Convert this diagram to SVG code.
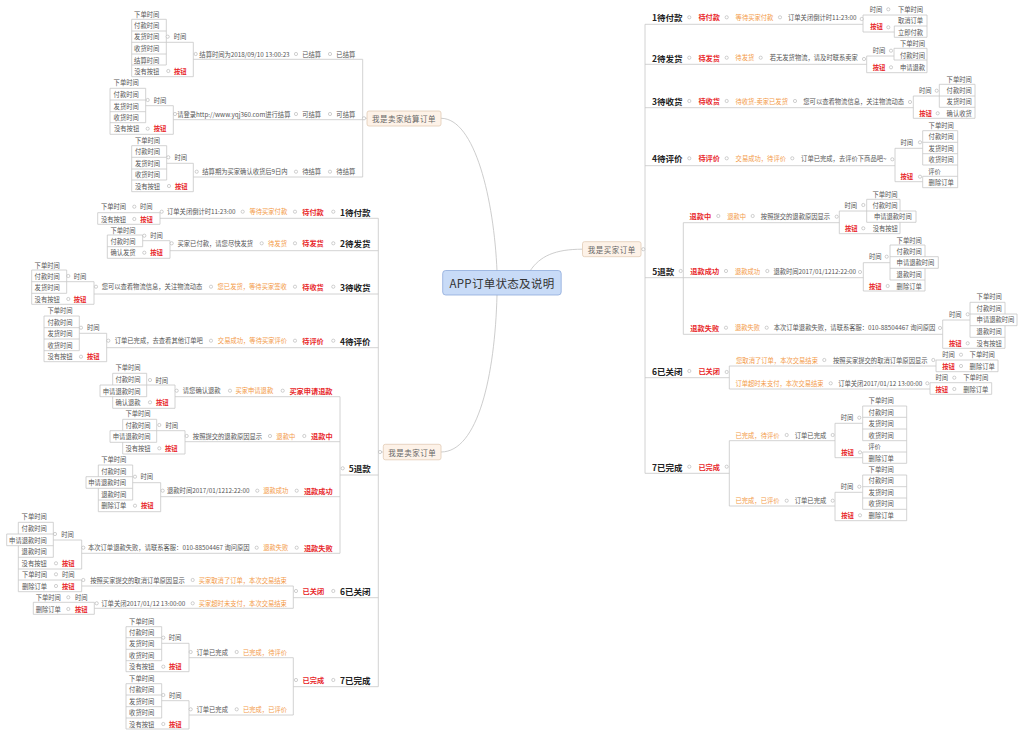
<svg xmlns="http://www.w3.org/2000/svg" width="1024" height="735" viewBox="0 0 1024 735">
<style>
text{font-family:"Noto Sans CJK SC","Noto Sans",sans-serif;text-anchor:middle;dominant-baseline:central}
.t{font-size:6.3px;fill:#555}
.o{font-size:6.3px;fill:#f39a48}
.b{font-size:6.3px;fill:#e8282b;font-weight:bold}
.r{font-size:7.2px;fill:#e8282b;font-weight:bold}
.h{font-size:8.5px;fill:#222;font-weight:bold}
.bx{fill:#fdf2e8;stroke:#e2cbb5;stroke-width:0.8}
.bt{font-size:7.5px;fill:#666;letter-spacing:0.5px}
.ln{fill:none;stroke:#c6c6c6;stroke-width:0.8}
.cv{fill:none;stroke:#c0c0c0;stroke-width:0.8}
.k{fill:#fff;stroke:#b0b0b0;stroke-width:0.6}
</style>
<rect width="1024" height="735" fill="#fff"/>
<g id="connectors">
<path class="cv" d="M441,118.3 C475,118.3 494,200 497,271"/>
<path class="cv" d="M441,452 C478,452 495,375 497,295"/>
<path class="cv" d="M530,271 C540,256 555,249.2 582.5,249.2"/>
<path class="ln" d="M641,249.2 H645 M645,24.3 V473.3"/>
<path class="ln" d="M645,24.3 H863 M863,15 V32 M863,15 H927 M863,32 H894.3 M894.3,26 V37.3 M894.3,26 H927 M894.3,37.3 H927 M927,15 V37.3"/>
<path class="ln" d="M645,64.3 H866.7 M866.7,56 V72.7 M866.7,56 H894 M894,48.3 V60 M894,48.3 H927 M894,60 H927 M866.7,72.7 H927 M927,48.3 V72.7"/>
<path class="ln" d="M645,107.7 H913.3 M913.3,96 V118.3 M913.3,96 H939.3 M939.3,84.3 V107.3 M939.3,84.3 H975 M939.3,96 H975 M939.3,107.3 H975 M913.3,118.3 H975 M975,84.3 V118.3"/>
<path class="ln" d="M645,165.7 H895 M895,148.3 V181.7 M895,148.3 H922.7 M922.7,130.7 V165 M922.7,130.7 H957.7 M922.7,142.3 H957.7 M922.7,153.7 H957.7 M922.7,165 H957.7 M895,181.7 H922.7 M922.7,176.3 V187.7 M922.7,176.3 H957.7 M922.7,187.7 H957.7 M957.7,130.7 V187.7"/>
<path class="ln" d="M645,277.7 H683.3 M683.3,222.7 V334.3"/>
<path class="ln" d="M683.3,222.7 H839.3 M839.3,211 V233.7 M839.3,211 H866.7 M866.7,199.3 V222.3 M866.7,199.3 H900 M866.7,211 H916 M866.7,222.3 H916 M839.3,233.7 H900 M900,199.3 V211 M916,211 V222.3 M900,222.3 V233.7"/>
<path class="ln" d="M683.3,277.7 H863.3 M863.3,262.7 V291 M863.3,262.7 H890 M890,245 V280 M890,245 H925 M890,256.7 H938.3 M890,268.3 H938.3 M890,280 H925 M863.3,291 H925 M925,245 V256.7 M938.3,256.7 V268.3 M925,268.3 V291"/>
<path class="ln" d="M683.3,334.3 H942.7 M942.7,320 V348.3 M942.7,320 H970 M970,302.3 V337.3 M970,302.3 H1005 M970,314 H1017 M970,325.7 H1017 M970,337.3 H1005 M942.7,348.3 H1005 M1005,302.3 V314 M1017,314 V325.7 M1005,325.7 V348.3"/>
<path class="ln" d="M645,377.7 H729.3 M729.3,366 V389 M729.3,366 H936 M936,360 V371.7 M936,360 H998 M936,371.7 H998 M998,360 V371.7 M729.3,389 H930 M930,382.7 V394.3 M930,382.7 H991.7 M930,394.3 H991.7 M991.7,382.7 V394.3"/>
<path class="ln" d="M645,473.3 H729.3 M729.3,440.7 V506 M729.3,440.7 H835 M835,423.3 V457.7 M835,423.3 H862.7 M862.7,406 V440.7 M862.7,406 H906.7 M862.7,417.3 H906.7 M862.7,429 H906.7 M862.7,440.7 H906.7 M835,457.7 H862.7 M862.7,452 V463.3 M862.7,452 H906.7 M862.7,463.3 H906.7 M906.7,406 V463.3 M729.3,506 H835 M835,492.3 V520.7 M835,492.3 H862.7 M862.7,475 V509.3 M862.7,475 H906.7 M862.7,486.7 H906.7 M862.7,498 H906.7 M862.7,509.3 H906.7 M835,520.7 H906.7 M906.7,475 V520.7"/>
<path class="ln" d="M362.7,59.3 V177 M362.7,118.3 H367"/>
<path class="ln" d="M362.7,59.3 H193.3 M193.3,42.3 V76.7 M193.3,42.3 H166.3 M166.3,19.3 V65 M166.3,19.3 H131.7 M166.3,31 H131.7 M166.3,42.3 H131.7 M166.3,54 H131.7 M166.3,65 H131.7 M193.3,76.7 H131.7 M131.7,19.3 V76.7"/>
<path class="ln" d="M362.7,119.7 H173.3 M173.3,105.7 V134.3 M173.3,105.7 H145.7 M145.7,88.3 V122.7 M145.7,88.3 H110 M145.7,100 H110 M145.7,111.7 H110 M145.7,122.7 H110 M173.3,134.3 H110 M110,88.3 V134.3"/>
<path class="ln" d="M362.7,177 H193.3 M193.3,163.3 V191.7 M193.3,163.3 H166.7 M166.7,145.7 V180 M166.7,145.7 H131.7 M166.7,157.3 H131.7 M166.7,169 H131.7 M166.7,180 H131.7 M193.3,191.7 H131.7 M131.7,145.7 V191.7"/>
<path class="ln" d="M378.3,218.3 V686.7 M378.3,452 H383.3"/>
<path class="ln" d="M378.3,218.3 H160 M160,212.7 V224.3 M160,212.7 H97.7 M160,224.3 H97.7 M97.7,212.7 V224.3"/>
<path class="ln" d="M378.3,250.7 H170 M170,240.7 V258.3 M170,240.7 H142.7 M142.7,235 V246.7 M142.7,235 H107.3 M142.7,246.7 H107.3 M170,258.3 H107.3 M107.3,235 V258.3"/>
<path class="ln" d="M378.3,294 H94 M94,281.7 V304.3 M94,281.7 H66.7 M66.7,270 V293.3 M66.7,270 H31.7 M66.7,281.7 H31.7 M66.7,293.3 H31.7 M94,304.3 H31.7 M31.7,270 V304.3"/>
<path class="ln" d="M378.3,347.7 H106.7 M106.7,333.3 V361.7 M106.7,333.3 H79.3 M79.3,316 V350.7 M79.3,316 H44 M79.3,327.7 H44 M79.3,339 H44 M79.3,350.7 H44 M106.7,361.7 H44 M44,316 V361.7"/>
<path class="ln" d="M378.3,475 H340 M340,396.7 V553.3"/>
<path class="ln" d="M340,396.7 H175 M175,385 V408.3 M175,385 H146.7 M146.7,373.3 V396.7 M146.7,373.3 H112.7 M146.7,385 H100 M146.7,396.7 H100 M175,408.3 H112.7 M112.7,373.3 V385 M100,385 V396.7 M112.7,396.7 V408.3"/>
<path class="ln" d="M340,441.7 H185 M185,430.7 V454 M185,430.7 H156.7 M156.7,419.3 V442.3 M156.7,419.3 H122.7 M156.7,430.7 H110 M156.7,442.3 H110 M185,454 H122.7 M122.7,419.3 V430.7 M110,430.7 V442.3 M122.7,442.3 V454"/>
<path class="ln" d="M340,496.7 H160.7 M160.7,482.7 V511.7 M160.7,482.7 H132.7 M132.7,465 V500 M132.7,465 H98.3 M132.7,476.7 H86 M132.7,488.3 H86 M132.7,500 H98.3 M160.7,511.7 H98.3 M98.3,465 V476.7 M86,476.7 V488.3 M98.3,488.3 V511.7"/>
<path class="ln" d="M340,553.3 H81.7 M81.7,540 V569 M81.7,540 H53.3 M53.3,522.3 V557.3 M53.3,522.3 H18.3 M53.3,534 H6.7 M53.3,545.7 H6.7 M53.3,557.3 H18.3 M81.7,569 H18.3 M18.3,522.3 V534 M6.7,534 V545.7 M18.3,545.7 V591.7"/>
<path class="ln" d="M378.3,597.7 H293.3 M293.3,586 V608.3 M293.3,586 H81.7 M81.7,580 V591.7 M81.7,580 H18.3 M81.7,591.7 H18.3 M293.3,608.3 H94.3 M94.3,602.3 V614.3 M94.3,602.3 H33.3 M94.3,614.3 H33.3 M33.3,602.3 V614.3"/>
<path class="ln" d="M378.3,686.7 H293.3 M293.3,657.7 V715 M293.3,657.7 H189 M189,643.3 V671.7 M189,643.3 H161.7 M161.7,626.7 V660.7 M161.7,626.7 H126 M161.7,637.7 H126 M161.7,649.3 H126 M161.7,660.7 H126 M189,671.7 H126 M126,626.7 V671.7 M293.3,715 H189 M189,700.7 V729 M189,700.7 H161.7 M161.7,683.7 V718 M161.7,683.7 H126 M161.7,695 H126 M161.7,706.7 H126 M161.7,718 H126 M189,729 H126 M126,683.7 V729"/>
</g>
<g id="markers">
<circle class="k" r="1.6" cx="643.3" cy="249.2"/><circle class="k" r="1.6" cx="364" cy="118.3"/><circle class="k" r="1.6" cx="380" cy="452"/>
<circle class="k" r="1.6" cx="689.3" cy="17.3"/><circle class="k" r="1.6" cx="726.7" cy="17.3"/><circle class="k" r="1.6" cx="780" cy="17.3"/><circle class="k" r="1.6" cx="861.7" cy="19"/><circle class="k" r="1.6" cx="888.3" cy="9.3"/><circle class="k" r="1.6" cx="888.3" cy="27.3"/>
<circle class="k" r="1.6" cx="689.3" cy="57.7"/><circle class="k" r="1.6" cx="726.7" cy="57.7"/><circle class="k" r="1.6" cx="760.7" cy="57.7"/><circle class="k" r="1.6" cx="864" cy="59"/><circle class="k" r="1.6" cx="891" cy="50.7"/><circle class="k" r="1.6" cx="891" cy="67.3"/>
<circle class="k" r="1.6" cx="689.3" cy="101"/><circle class="k" r="1.6" cx="726.7" cy="101"/><circle class="k" r="1.6" cx="795" cy="101"/><circle class="k" r="1.6" cx="910" cy="102"/><circle class="k" r="1.6" cx="936.7" cy="90.7"/><circle class="k" r="1.6" cx="937.7" cy="113.3"/>
<circle class="k" r="1.6" cx="689.3" cy="158.3"/><circle class="k" r="1.6" cx="726.7" cy="158.3"/><circle class="k" r="1.6" cx="792.3" cy="158.3"/><circle class="k" r="1.6" cx="892.3" cy="159.3"/><circle class="k" r="1.6" cx="920" cy="142.3"/><circle class="k" r="1.6" cx="920" cy="176.7"/>
<circle class="k" r="1.6" cx="680.7" cy="271"/>
<circle class="k" r="1.6" cx="718.3" cy="216"/><circle class="k" r="1.6" cx="752.7" cy="216"/><circle class="k" r="1.6" cx="836.7" cy="216.7"/><circle class="k" r="1.6" cx="863.3" cy="205"/><circle class="k" r="1.6" cx="863.3" cy="228.3"/>
<circle class="k" r="1.6" cx="726" cy="271"/><circle class="k" r="1.6" cx="767.3" cy="271"/><circle class="k" r="1.6" cx="860" cy="272"/><circle class="k" r="1.6" cx="886.7" cy="256.7"/><circle class="k" r="1.6" cx="887.7" cy="286"/>
<circle class="k" r="1.6" cx="726" cy="327.7"/><circle class="k" r="1.6" cx="766.7" cy="327.7"/><circle class="k" r="1.6" cx="940" cy="328"/><circle class="k" r="1.6" cx="967.7" cy="314.3"/><circle class="k" r="1.6" cx="967.7" cy="343.3"/>
<circle class="k" r="1.6" cx="689.3" cy="371"/><circle class="k" r="1.6" cx="726.7" cy="372"/><circle class="k" r="1.6" cx="824.3" cy="360"/><circle class="k" r="1.6" cx="933.3" cy="360"/><circle class="k" r="1.6" cx="961" cy="354.7"/><circle class="k" r="1.6" cx="961" cy="366"/><circle class="k" r="1.6" cx="830.7" cy="383.3"/><circle class="k" r="1.6" cx="927.3" cy="383.3"/><circle class="k" r="1.6" cx="954.3" cy="377.7"/><circle class="k" r="1.6" cx="954.3" cy="389"/>
<circle class="k" r="1.6" cx="689.3" cy="466.7"/><circle class="k" r="1.6" cx="726.7" cy="466.7"/><circle class="k" r="1.6" cx="786.7" cy="435"/><circle class="k" r="1.6" cx="832.7" cy="435"/><circle class="k" r="1.6" cx="859.3" cy="417.7"/><circle class="k" r="1.6" cx="860" cy="452.3"/><circle class="k" r="1.6" cx="786.7" cy="500.7"/><circle class="k" r="1.6" cx="832.7" cy="500.7"/><circle class="k" r="1.6" cx="859.3" cy="486.7"/><circle class="k" r="1.6" cx="860" cy="515.3"/>
<circle class="k" r="1.6" cx="330" cy="54"/><circle class="k" r="1.6" cx="296" cy="54"/><circle class="k" r="1.6" cx="195.7" cy="54"/><circle class="k" r="1.6" cx="167.7" cy="36.7"/><circle class="k" r="1.6" cx="168.3" cy="71"/>
<circle class="k" r="1.6" cx="330" cy="114"/><circle class="k" r="1.6" cx="296" cy="114"/><circle class="k" r="1.6" cx="175" cy="114"/><circle class="k" r="1.6" cx="147.7" cy="100"/><circle class="k" r="1.6" cx="147.7" cy="128.7"/>
<circle class="k" r="1.6" cx="330" cy="171.7"/><circle class="k" r="1.6" cx="296" cy="171.7"/><circle class="k" r="1.6" cx="196.7" cy="171.7"/><circle class="k" r="1.6" cx="168.3" cy="157.3"/><circle class="k" r="1.6" cx="169" cy="186"/>
<circle class="k" r="1.6" cx="333.3" cy="211.7"/><circle class="k" r="1.6" cx="295" cy="211.7"/><circle class="k" r="1.6" cx="242.7" cy="211.7"/><circle class="k" r="1.6" cx="161.7" cy="211.7"/><circle class="k" r="1.6" cx="134.3" cy="206.7"/><circle class="k" r="1.6" cx="134.3" cy="219"/>
<circle class="k" r="1.6" cx="333.3" cy="243.3"/><circle class="k" r="1.6" cx="295" cy="243.3"/><circle class="k" r="1.6" cx="261.7" cy="243.3"/><circle class="k" r="1.6" cx="171.7" cy="243.3"/><circle class="k" r="1.6" cx="144.3" cy="235.7"/><circle class="k" r="1.6" cx="144.3" cy="252.7"/>
<circle class="k" r="1.6" cx="333.3" cy="286.7"/><circle class="k" r="1.6" cx="295" cy="286.7"/><circle class="k" r="1.6" cx="211" cy="286.7"/><circle class="k" r="1.6" cx="96" cy="286.7"/><circle class="k" r="1.6" cx="68.3" cy="276"/><circle class="k" r="1.6" cx="68.3" cy="299"/>
<circle class="k" r="1.6" cx="333.3" cy="340.7"/><circle class="k" r="1.6" cx="295" cy="340.7"/><circle class="k" r="1.6" cx="211" cy="340.7"/><circle class="k" r="1.6" cx="108.3" cy="340.7"/><circle class="k" r="1.6" cx="81" cy="327.7"/><circle class="k" r="1.6" cx="81" cy="356.7"/>
<circle class="k" r="1.6" cx="342.7" cy="468.3"/>
<circle class="k" r="1.6" cx="282.7" cy="390.7"/><circle class="k" r="1.6" cx="230" cy="390.7"/><circle class="k" r="1.6" cx="176.7" cy="390.7"/><circle class="k" r="1.6" cx="150" cy="380"/><circle class="k" r="1.6" cx="150" cy="402.3"/>
<circle class="k" r="1.6" cx="304.3" cy="436"/><circle class="k" r="1.6" cx="270" cy="436"/><circle class="k" r="1.6" cx="186.7" cy="436"/><circle class="k" r="1.6" cx="159.3" cy="425"/><circle class="k" r="1.6" cx="159.3" cy="448.3"/>
<circle class="k" r="1.6" cx="296.7" cy="490.7"/><circle class="k" r="1.6" cx="257.3" cy="490.7"/><circle class="k" r="1.6" cx="162.7" cy="490.7"/><circle class="k" r="1.6" cx="135" cy="476.7"/><circle class="k" r="1.6" cx="135" cy="505.7"/>
<circle class="k" r="1.6" cx="296.7" cy="547.7"/><circle class="k" r="1.6" cx="256.7" cy="547.7"/><circle class="k" r="1.6" cx="83.3" cy="547.7"/><circle class="k" r="1.6" cx="55" cy="534"/><circle class="k" r="1.6" cx="56" cy="563.3"/>
<circle class="k" r="1.6" cx="333.3" cy="591"/><circle class="k" r="1.6" cx="296" cy="591"/><circle class="k" r="1.6" cx="192.7" cy="580"/><circle class="k" r="1.6" cx="83.3" cy="580"/><circle class="k" r="1.6" cx="56" cy="574.3"/><circle class="k" r="1.6" cx="56" cy="586"/><circle class="k" r="1.6" cx="192.7" cy="603.3"/><circle class="k" r="1.6" cx="96.7" cy="603.3"/><circle class="k" r="1.6" cx="68.3" cy="597.3"/><circle class="k" r="1.6" cx="68.3" cy="609"/>
<circle class="k" r="1.6" cx="333.3" cy="680"/><circle class="k" r="1.6" cx="296" cy="680"/><circle class="k" r="1.6" cx="236.7" cy="652"/><circle class="k" r="1.6" cx="190.7" cy="652"/><circle class="k" r="1.6" cx="163.3" cy="637.7"/><circle class="k" r="1.6" cx="163.3" cy="666.7"/><circle class="k" r="1.6" cx="236.7" cy="709.3"/><circle class="k" r="1.6" cx="190.7" cy="709.3"/><circle class="k" r="1.6" cx="163.3" cy="695"/><circle class="k" r="1.6" cx="163.3" cy="724"/>
</g>
<g id="root"><rect x="442.7" y="270.5" width="118.5" height="24.5" rx="3" fill="#c8dbf7" stroke="#8eaadb" stroke-width="0.8"/><text x="502" y="283" style="font-size:11.5px;fill:#333;letter-spacing:0.3px">APP订单状态及说明</text></g>
<g id="seller-settle"><rect class="bx" x="367" y="111" width="74" height="15" rx="2"/><text class="bt" x="404" y="118.5">我是卖家结算订单</text></g>
<g id="buyer"><rect class="bx" x="582.5" y="241.7" width="58.5" height="15" rx="2"/><text class="bt" x="611.7" y="249.2">我是买家订单</text></g>
<g id="seller"><rect class="bx" x="383.3" y="444.3" width="57.7" height="15.5" rx="2"/><text class="bt" x="412.2" y="452">我是卖家订单</text></g>

<g id="b1"><text class="h" x="667.3" y="17.3">1待付款</text></g>
<g id="b1s"><text class="r" x="709.2" y="17.3">待付款</text></g>
<g id="b1d"><text class="o" x="754.5" y="17.3">等待买家付款</text></g>
<g id="b1n"><text class="t" x="822.3" y="17.3">订单关闭倒计时11:23:00</text></g>
<g id="b1t"><text class="t" x="876" y="9.3">时间</text></g>
<g id="b1t1"><text class="t" x="910.5" y="9.3">下单时间</text></g>
<g id="b1b"><text class="b" x="876.5" y="26.7">按钮</text></g>
<g id="b1b1"><text class="t" x="910.5" y="20.7">取消订单</text></g>
<g id="b1b2"><text class="t" x="910.5" y="32">立即付款</text></g>

<g id="b2"><text class="h" x="667.3" y="57.7">2待发货</text></g>
<g id="b2s"><text class="r" x="709.2" y="57.7">待发货</text></g>
<g id="b2d"><text class="o" x="744.8" y="57.7">待发货</text></g>
<g id="b2n"><text class="t" x="813.8" y="57.7">若无发货物流，请及时联系卖家</text></g>
<g id="b2t"><text class="t" x="879" y="50.7">时间</text></g>
<g id="b2t1"><text class="t" x="912.5" y="43.3">下单时间</text></g>
<g id="b2t2"><text class="t" x="912.5" y="55">付款时间</text></g>
<g id="b2b"><text class="b" x="879" y="67.3">按钮</text></g>
<g id="b2b1"><text class="t" x="912.5" y="67.3">申请退款</text></g>

<g id="b3"><text class="h" x="667.3" y="101">3待收货</text></g>
<g id="b3s"><text class="r" x="709.2" y="101">待收货</text></g>
<g id="b3d"><text class="o" x="761.7" y="101">待收货-卖家已发货</text></g>
<g id="b3n"><text class="t" x="853.7" y="101">您可以查看物流信息，关注物流动态</text></g>
<g id="b3t"><text class="t" x="925.2" y="90.7">时间</text></g>
<g id="b3t1"><text class="t" x="959.2" y="79.3">下单时间</text></g>
<g id="b3t2"><text class="t" x="959.2" y="90.7">付款时间</text></g>
<g id="b3t3"><text class="t" x="959.2" y="101.7">发货时间</text></g>
<g id="b3b"><text class="b" x="925.5" y="113.3">按钮</text></g>
<g id="b3b1"><text class="t" x="959.2" y="113.3">确认收货</text></g>

<g id="b4"><text class="h" x="667.3" y="158.3">4待评价</text></g>
<g id="b4s"><text class="r" x="709.2" y="158.3">待评价</text></g>
<g id="b4d"><text class="o" x="760.8" y="158.3">交易成功，待评价</text></g>
<g id="b4n"><text class="t" x="843.8" y="158.3">订单已完成，去评价下商品吧~</text></g>
<g id="b4t"><text class="t" x="906.8" y="142.3">时间</text></g>
<g id="b4t1"><text class="t" x="941.2" y="125">下单时间</text></g>
<g id="b4t2"><text class="t" x="941.2" y="136.7">付款时间</text></g>
<g id="b4t3"><text class="t" x="941.2" y="148">发货时间</text></g>
<g id="b4t4"><text class="t" x="941.2" y="159.3">收货时间</text></g>
<g id="b4b"><text class="b" x="906.8" y="176.7">按钮</text></g>
<g id="b4b1"><text class="t" x="934.5" y="171">评价</text></g>
<g id="b4b2"><text class="t" x="941.2" y="182.3">删除订单</text></g>

<g id="b5"><text class="h" x="663.3" y="271">5退款</text></g>
<g id="b5a"><text class="r" x="700.3" y="216">退款中</text></g>
<g id="b5ad"><text class="o" x="736.7" y="216">退款中</text></g>
<g id="b5an"><text class="t" x="795.5" y="216">按照提交的退款原因显示</text></g>
<g id="b5at"><text class="t" x="850.8" y="205">时间</text></g>
<g id="b5at1"><text class="t" x="885" y="194">下单时间</text></g>
<g id="b5at2"><text class="t" x="885" y="205.3">付款时间</text></g>
<g id="b5at3"><text class="t" x="892.8" y="216.7">申请退款时间</text></g>
<g id="b5ab"><text class="b" x="851.3" y="228.3">按钮</text></g>
<g id="b5ab1"><text class="t" x="885.3" y="228.3">没有按钮</text></g>
<g id="b5b"><text class="r" x="704.7" y="271">退款成功</text></g>
<g id="b5bd"><text class="o" x="747.5" y="271">退款成功</text></g>
<g id="b5bn"><text class="t" x="814.7" y="271">退款时间2017/01/1212:22:00</text></g>
<g id="b5bt"><text class="t" x="875.2" y="256.7">时间</text></g>
<g id="b5bt1"><text class="t" x="909.2" y="240">下单时间</text></g>
<g id="b5bt2"><text class="t" x="909.2" y="251.7">付款时间</text></g>
<g id="b5bt3"><text class="t" x="915.5" y="262.7">申请退款时间</text></g>
<g id="b5bt4"><text class="t" x="909.2" y="274">退款时间</text></g>
<g id="b5bb"><text class="b" x="875.2" y="286">按钮</text></g>
<g id="b5bb1"><text class="t" x="909.2" y="286">删除订单</text></g>
<g id="b5c"><text class="r" x="704.7" y="327.7">退款失败</text></g>
<g id="b5cd"><text class="o" x="747.5" y="327.7">退款失败</text></g>
<g id="b5cn"><text class="t" x="854.5" y="327.7">本次订单退款失败，请联系客服：010-88504467 询问原因</text></g>
<g id="b5ct"><text class="t" x="955.2" y="314.3">时间</text></g>
<g id="b5ct1"><text class="t" x="989.2" y="296.7">下单时间</text></g>
<g id="b5ct2"><text class="t" x="989.2" y="308.3">付款时间</text></g>
<g id="b5ct3"><text class="t" x="995.5" y="319.3">申请退款时间</text></g>
<g id="b5ct4"><text class="t" x="989.2" y="331">退款时间</text></g>
<g id="b5cb"><text class="b" x="955.2" y="343.3">按钮</text></g>
<g id="b5cb1"><text class="t" x="989.2" y="343.3">没有按钮</text></g>

<g id="b6"><text class="h" x="667.2" y="371">6已关闭</text></g>
<g id="b6s"><text class="r" x="709.2" y="371">已关闭</text></g>
<g id="b6a"><text class="o" x="777" y="360">您取消了订单，本次交易结束</text></g>
<g id="b6an"><text class="t" x="880.3" y="360">按照买家提交的取消订单原因显示</text></g>
<g id="b6at"><text class="t" x="948.5" y="354.7">时间</text></g>
<g id="b6at1"><text class="t" x="982.2" y="354.7">下单时间</text></g>
<g id="b6ab"><text class="b" x="948.5" y="366">按钮</text></g>
<g id="b6ab1"><text class="t" x="982.2" y="366">删除订单</text></g>
<g id="b6b"><text class="o" x="779.5" y="383.3">订单超时未支付，本次交易结束</text></g>
<g id="b6bn"><text class="t" x="880.2" y="383.3">订单关闭2017/01/12 13:00:00</text></g>
<g id="b6bt"><text class="t" x="941.8" y="377.7">时间</text></g>
<g id="b6bt1"><text class="t" x="975.8" y="377.7">下单时间</text></g>
<g id="b6bb"><text class="b" x="941.8" y="389">按钮</text></g>
<g id="b6bb1"><text class="t" x="975.8" y="389">删除订单</text></g>

<g id="b7"><text class="h" x="667.2" y="466.7">7已完成</text></g>
<g id="b7s"><text class="r" x="709.2" y="466.7">已完成</text></g>
<g id="b7a"><text class="o" x="757.5" y="435">已完成，待评价</text></g>
<g id="b7an"><text class="t" x="810.5" y="435">订单已完成</text></g>
<g id="b7at"><text class="t" x="847" y="417.7">时间</text></g>
<g id="b7at1"><text class="t" x="881.2" y="400.7">下单时间</text></g>
<g id="b7at2"><text class="t" x="881.2" y="412">付款时间</text></g>
<g id="b7at3"><text class="t" x="881.2" y="423.3">发货时间</text></g>
<g id="b7at4"><text class="t" x="881.2" y="435">收货时间</text></g>
<g id="b7ab"><text class="b" x="847.5" y="452.3">按钮</text></g>
<g id="b7ab1"><text class="t" x="874.5" y="446.3">评价</text></g>
<g id="b7ab2"><text class="t" x="881.2" y="458">删除订单</text></g>
<g id="b7b"><text class="o" x="757.5" y="500.7">已完成，已评价</text></g>
<g id="b7bn"><text class="t" x="810.5" y="500.7">订单已完成</text></g>
<g id="b7bt"><text class="t" x="847" y="486.7">时间</text></g>
<g id="b7bt1"><text class="t" x="881.2" y="469.3">下单时间</text></g>
<g id="b7bt2"><text class="t" x="881.2" y="480.7">付款时间</text></g>
<g id="b7bt3"><text class="t" x="881.2" y="492.3">发货时间</text></g>
<g id="b7bt4"><text class="t" x="881.2" y="503.7">收货时间</text></g>
<g id="b7bb"><text class="b" x="847.5" y="515.3">按钮</text></g>
<g id="b7bb1"><text class="t" x="881.2" y="515.3">删除订单</text></g>

<g id="s1"><text class="t" x="345.8" y="54">已结算</text></g>
<g id="s1a"><text class="t" x="311.7" y="54">已结算</text></g>
<g id="s1n"><text class="t" x="244.5" y="54">结算时间为2018/09/10 13:00:23</text></g>
<g id="s1t"><text class="t" x="180" y="36.7">时间</text></g>
<g id="s1t1"><text class="t" x="146.7" y="14">下单时间</text></g>
<g id="s1t2"><text class="t" x="146.7" y="25.3">付款时间</text></g>
<g id="s1t3"><text class="t" x="146.7" y="36.7">发货时间</text></g>
<g id="s1t4"><text class="t" x="146.7" y="48.3">收货时间</text></g>
<g id="s1t5"><text class="t" x="146.7" y="60">结算时间</text></g>
<g id="s1b"><text class="b" x="180.2" y="71">按钮</text></g>
<g id="s1b1"><text class="t" x="146.8" y="71">没有按钮</text></g>

<g id="s2"><text class="t" x="345.8" y="114">可结算</text></g>
<g id="s2a"><text class="t" x="311.7" y="114">可结算</text></g>
<g id="s2n"><text class="t" x="233.8" y="114">请登录http://www.yqj360.com进行结算</text></g>
<g id="s2t"><text class="t" x="160" y="100">时间</text></g>
<g id="s2t1"><text class="t" x="126.2" y="82.7">下单时间</text></g>
<g id="s2t2"><text class="t" x="126.2" y="94.3">付款时间</text></g>
<g id="s2t3"><text class="t" x="126.2" y="106">发货时间</text></g>
<g id="s2t4"><text class="t" x="126.2" y="117.3">收货时间</text></g>
<g id="s2b"><text class="b" x="160" y="128.7">按钮</text></g>
<g id="s2b1"><text class="t" x="126.6" y="128.7">没有按钮</text></g>

<g id="s3"><text class="t" x="345.8" y="171.7">待结算</text></g>
<g id="s3a"><text class="t" x="311.7" y="171.7">待结算</text></g>
<g id="s3n"><text class="t" x="245" y="171.7">结算期为买家确认收货后9日内</text></g>
<g id="s3t"><text class="t" x="180.8" y="157.3">时间</text></g>
<g id="s3t1"><text class="t" x="147.5" y="140">下单时间</text></g>
<g id="s3t2"><text class="t" x="147.5" y="151.7">付款时间</text></g>
<g id="s3t3"><text class="t" x="147.5" y="163.3">发货时间</text></g>
<g id="s3t4"><text class="t" x="147.5" y="174.3">收货时间</text></g>
<g id="s3b"><text class="b" x="181.2" y="186">按钮</text></g>
<g id="s3b1"><text class="t" x="147.5" y="186">没有按钮</text></g>

<g id="l1"><text class="h" x="355.3" y="211.7">1待付款</text></g>
<g id="l1s"><text class="r" x="313" y="211.7">待付款</text></g>
<g id="l1d"><text class="o" x="268.3" y="211.7">等待买家付款</text></g>
<g id="l1n"><text class="t" x="201.3" y="211.7">订单关闭倒计时11:23:00</text></g>
<g id="l1t"><text class="t" x="146.2" y="206.7">时间</text></g>
<g id="l1t1"><text class="t" x="113.5" y="206.7">下单时间</text></g>
<g id="l1b"><text class="b" x="146.5" y="219">按钮</text></g>
<g id="l1b1"><text class="t" x="113.5" y="219">没有按钮</text></g>

<g id="l2"><text class="h" x="355.3" y="243.3">2待发货</text></g>
<g id="l2s"><text class="r" x="313" y="243.3">待发货</text></g>
<g id="l2d"><text class="o" x="277.5" y="243.3">待发货</text></g>
<g id="l2n"><text class="t" x="215.3" y="243.3">买家已付款，请您尽快发货</text></g>
<g id="l2t"><text class="t" x="156.5" y="235.7">时间</text></g>
<g id="l2t1"><text class="t" x="123" y="230">下单时间</text></g>
<g id="l2t2"><text class="t" x="123" y="241.7">付款时间</text></g>
<g id="l2b"><text class="b" x="156.5" y="252.7">按钮</text></g>
<g id="l2b1"><text class="t" x="123" y="252.7">确认发货</text></g>

<g id="l3"><text class="h" x="355.3" y="286.7">3待收货</text></g>
<g id="l3s"><text class="r" x="313" y="286.7">待收货</text></g>
<g id="l3d"><text class="o" x="252.2" y="286.7">您已发货，等待买家签收</text></g>
<g id="l3n"><text class="t" x="152" y="286.7">您可以查看物流信息，关注物流动态</text></g>
<g id="l3t"><text class="t" x="80" y="276">时间</text></g>
<g id="l3t1"><text class="t" x="47.2" y="265">下单时间</text></g>
<g id="l3t2"><text class="t" x="47.2" y="276">付款时间</text></g>
<g id="l3t3"><text class="t" x="47.2" y="287.7">发货时间</text></g>
<g id="l3b"><text class="b" x="80" y="299">按钮</text></g>
<g id="l3b1"><text class="t" x="47.2" y="299">没有按钮</text></g>

<g id="l4"><text class="h" x="355.3" y="340.7">4待评价</text></g>
<g id="l4s"><text class="r" x="313" y="340.7">待评价</text></g>
<g id="l4d"><text class="o" x="252.5" y="340.7">交易成功，等待买家评价</text></g>
<g id="l4n"><text class="t" x="158.8" y="340.7">订单已完成，去查看其他订单吧</text></g>
<g id="l4t"><text class="t" x="93.3" y="327.7">时间</text></g>
<g id="l4t1"><text class="t" x="60" y="310.7">下单时间</text></g>
<g id="l4t2"><text class="t" x="60" y="322">付款时间</text></g>
<g id="l4t3"><text class="t" x="60" y="333.7">发货时间</text></g>
<g id="l4t4"><text class="t" x="60" y="345">收货时间</text></g>
<g id="l4b"><text class="b" x="93.3" y="356.7">按钮</text></g>
<g id="l4b1"><text class="t" x="60" y="356.7">没有按钮</text></g>

<g id="l5"><text class="h" x="359.7" y="468.3">5退款</text></g>
<g id="l5a"><text class="r" x="311" y="390.7">买家申请退款</text></g>
<g id="l5ad"><text class="o" x="254.3" y="390.7">买家申请退款</text></g>
<g id="l5an"><text class="t" x="201.7" y="390.7">请您确认退款</text></g>
<g id="l5at"><text class="t" x="161.7" y="380">时间</text></g>
<g id="l5at1"><text class="t" x="128" y="367.7">下单时间</text></g>
<g id="l5at2"><text class="t" x="128" y="379.3">付款时间</text></g>
<g id="l5at3"><text class="t" x="121.7" y="391">申请退款时间</text></g>
<g id="l5ab"><text class="b" x="162.2" y="402.3">按钮</text></g>
<g id="l5ab1"><text class="t" x="128" y="402.3">确认退款</text></g>
<g id="l5b"><text class="r" x="321.8" y="436">退款中</text></g>
<g id="l5bd"><text class="o" x="285.8" y="436">退款中</text></g>
<g id="l5bn"><text class="t" x="227.5" y="436">按照提交的退款原因显示</text></g>
<g id="l5bt"><text class="t" x="171.7" y="425">时间</text></g>
<g id="l5bt1"><text class="t" x="138" y="413.3">下单时间</text></g>
<g id="l5bt2"><text class="t" x="138" y="425">付款时间</text></g>
<g id="l5bt3"><text class="t" x="131.7" y="436.7">申请退款时间</text></g>
<g id="l5bb"><text class="b" x="171.2" y="448.3">按钮</text></g>
<g id="l5bb1"><text class="t" x="138" y="448.3">没有按钮</text></g>
<g id="l5c"><text class="r" x="318.3" y="490.7">退款成功</text></g>
<g id="l5cd"><text class="o" x="275.8" y="490.7">退款成功</text></g>
<g id="l5cn"><text class="t" x="208.3" y="490.7">退款时间2017/01/1212:22:00</text></g>
<g id="l5ct"><text class="t" x="146.8" y="476.7">时间</text></g>
<g id="l5ct1"><text class="t" x="113.8" y="459.3">下单时间</text></g>
<g id="l5ct2"><text class="t" x="113.8" y="471">付款时间</text></g>
<g id="l5ct3"><text class="t" x="107.2" y="482.7">申请退款时间</text></g>
<g id="l5ct4"><text class="t" x="113.8" y="494.3">退款时间</text></g>
<g id="l5cb"><text class="b" x="147.2" y="505.7">按钮</text></g>
<g id="l5cb1"><text class="t" x="113.8" y="505.7">删除订单</text></g>
<g id="l5d"><text class="r" x="318.3" y="547.7">退款失败</text></g>
<g id="l5dd"><text class="o" x="275.8" y="547.7">退款失败</text></g>
<g id="l5dn"><text class="t" x="168.8" y="547.7">本次订单退款失败，请联系客服：010-88504467 询问原因</text></g>
<g id="l5dt"><text class="t" x="67.5" y="534">时间</text></g>
<g id="l5dt1"><text class="t" x="34.2" y="516.7">下单时间</text></g>
<g id="l5dt2"><text class="t" x="34.2" y="528.3">付款时间</text></g>
<g id="l5dt3"><text class="t" x="28" y="540">申请退款时间</text></g>
<g id="l5dt4"><text class="t" x="34.2" y="551.7">退款时间</text></g>
<g id="l5db"><text class="b" x="68.2" y="563.3">按钮</text></g>
<g id="l5db1"><text class="t" x="34.2" y="563.3">没有按钮</text></g>

<g id="l6"><text class="h" x="355.3" y="591">6已关闭</text></g>
<g id="l6s"><text class="r" x="313.3" y="591">已关闭</text></g>
<g id="l6a"><text class="o" x="242.8" y="580">买家取消了订单，本次交易结束</text></g>
<g id="l6an"><text class="t" x="137.5" y="580">按照买家提交的取消订单原因显示</text></g>
<g id="l6at"><text class="t" x="68.2" y="574.3">时间</text></g>
<g id="l6at1"><text class="t" x="34.5" y="574.3">下单时间</text></g>
<g id="l6ab"><text class="b" x="68.2" y="586">按钮</text></g>
<g id="l6ab1"><text class="t" x="34.5" y="586">删除订单</text></g>
<g id="l6b"><text class="o" x="242.8" y="603.3">买家超时未支付，本次交易结束</text></g>
<g id="l6bn"><text class="t" x="143.3" y="603.3">订单关闭2017/01/12 13:00:00</text></g>
<g id="l6bt"><text class="t" x="81.2" y="597.3">时间</text></g>
<g id="l6bt1"><text class="t" x="48.3" y="597.3">下单时间</text></g>
<g id="l6bb"><text class="b" x="81.2" y="609">按钮</text></g>
<g id="l6bb1"><text class="t" x="48.3" y="609">删除订单</text></g>

<g id="l7"><text class="h" x="355.3" y="680">7已完成</text></g>
<g id="l7s"><text class="r" x="313.3" y="680">已完成</text></g>
<g id="l7a"><text class="o" x="265" y="652">已完成，待评价</text></g>
<g id="l7an"><text class="t" x="212.2" y="652">订单已完成</text></g>
<g id="l7at"><text class="t" x="175" y="637.7">时间</text></g>
<g id="l7at1"><text class="t" x="141.7" y="621">下单时间</text></g>
<g id="l7at2"><text class="t" x="141.7" y="632.3">付款时间</text></g>
<g id="l7at3"><text class="t" x="141.7" y="643.7">发货时间</text></g>
<g id="l7at4"><text class="t" x="141.7" y="655">收货时间</text></g>
<g id="l7ab"><text class="b" x="175.2" y="666.7">按钮</text></g>
<g id="l7ab1"><text class="t" x="141.7" y="666.7">没有按钮</text></g>
<g id="l7b"><text class="o" x="265" y="709.3">已完成，已评价</text></g>
<g id="l7bn"><text class="t" x="212.2" y="709.3">订单已完成</text></g>
<g id="l7bt"><text class="t" x="175.2" y="695">时间</text></g>
<g id="l7bt1"><text class="t" x="141.7" y="678.3">下单时间</text></g>
<g id="l7bt2"><text class="t" x="141.7" y="689.7">付款时间</text></g>
<g id="l7bt3"><text class="t" x="141.7" y="701">发货时间</text></g>
<g id="l7bt4"><text class="t" x="141.7" y="712.3">收货时间</text></g>
<g id="l7bb"><text class="b" x="175.2" y="724">按钮</text></g>
<g id="l7bb1"><text class="t" x="141.7" y="724">没有按钮</text></g>
</svg>
